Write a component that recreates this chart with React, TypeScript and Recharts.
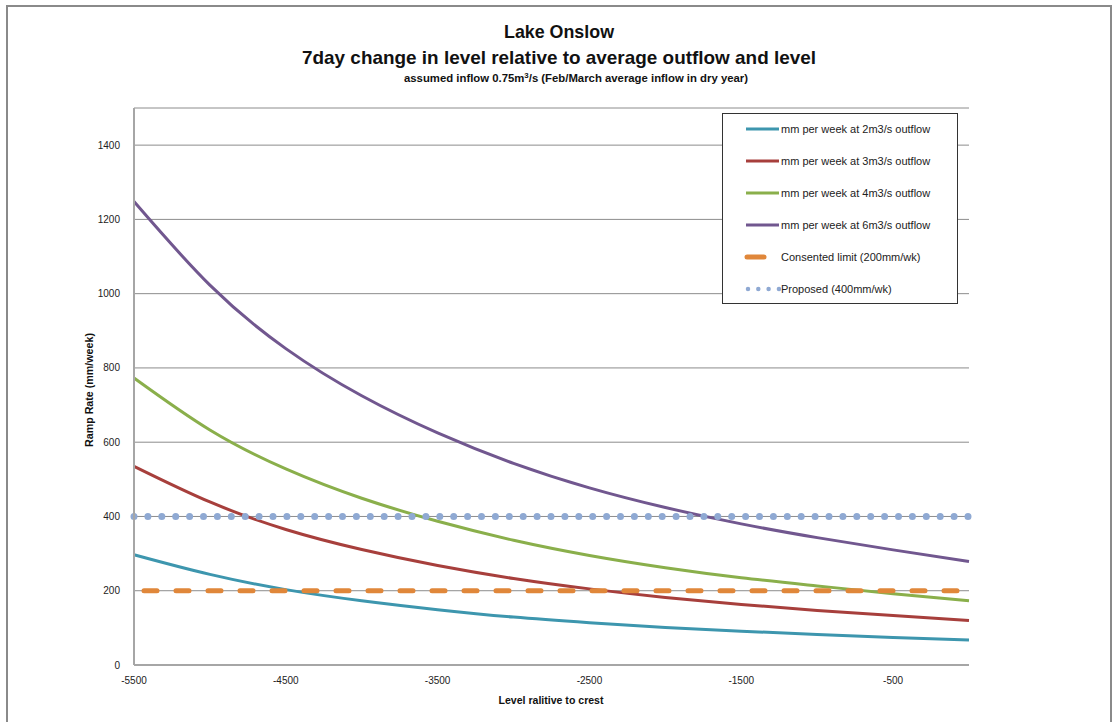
import React from 'react';
import { LineChart, Line, XAxis, YAxis, CartesianGrid } from 'recharts';

// Lake level relative to crest (mm)
const levels = [-5500, -5000, -4500, -4000, -3500, -3000, -2500, -2000, -1500, -1000, -500, 0];

// Weekly change in level (mm/week) for each average outflow
const outflow2 = [297, 244, 203, 173, 149, 129, 114, 101, 91, 82, 74, 67];
const outflow3 = [535, 439, 365, 311, 268, 233, 205, 182, 163, 147, 133, 120];
const outflow4 = [773, 633, 528, 449, 387, 336, 295, 262, 235, 213, 192, 173];
const outflow6 = [1248, 1023, 852, 725, 625, 543, 477, 424, 380, 343, 310, 279];

// Ramp rate limits (mm/week)
const consentedLimit = [200, 200, 200, 200, 200, 200, 200, 200, 200, 200, 200, 200];
const proposedLimit = [400, 400, 400, 400, 400, 400, 400, 400, 400, 400, 400, 400];

const xTicks = [-5500, -4500, -3500, -2500, -1500, -500];
const yTicks = [0, 200, 400, 600, 800, 1000, 1200, 1400];

const rows = levels.map((level, i) => ({
  level,
  q2: outflow2[i],
  q3: outflow3[i],
  q4: outflow4[i],
  q6: outflow6[i],
  consented: consentedLimit[i],
  proposed: proposedLimit[i],
}));

type SeriesDef = {
  key: string;
  name: string;
  color: string;
  width: number;
  dash?: string;
  dashOffset?: number;
  cap?: 'round' | 'butt';
};

const series: SeriesDef[] = [
  { key: 'q2', name: 'mm per week at 2m3/s outflow', color: '#3D96AE', width: 3 },
  { key: 'q3', name: 'mm per week at 3m3/s outflow', color: '#A73F3C', width: 3 },
  { key: 'q4', name: 'mm per week at 4m3/s outflow', color: '#8AAF4B', width: 3 },
  { key: 'q6', name: 'mm per week at 6m3/s outflow', color: '#71578F', width: 3 },
  { key: 'consented', name: 'Consented limit (200mm/wk)', color: '#E0873A', width: 5, dash: '13 19', dashOffset: -10, cap: 'round' },
  { key: 'proposed', name: 'Proposed (400mm/wk)', color: '#8FA9D3', width: 7, dash: '0 13.9', dashOffset: 0, cap: 'round' },
];

const FONT = '"Liberation Sans", Arial, sans-serif';

export default function App() {
  return (
    <div
      style={{
        position: 'absolute',
        left: 0,
        top: 0,
        width: 1119,
        height: 722,
        background: '#ffffff',
        fontFamily: FONT,
        overflow: 'hidden',
      }}
    >
      <div
        style={{
          position: 'absolute',
          left: 6,
          top: 5,
          width: 1102,
          height: 730,
          border: '2px solid #8a8a8a',
        }}
      />
      <div style={{ position: 'absolute', left: 0, top: 0 }}>
        <LineChart
          width={1119}
          height={722}
          data={rows}
          margin={{ top: 108, right: 150, bottom: 27, left: 74 }}
        >
          <CartesianGrid vertical={false} stroke="#8c8c8c" strokeWidth={1} />
          <XAxis
            dataKey="level"
            type="number"
            domain={[-5500, 0]}
            ticks={xTicks}
            interval={0}
            height={30}
            tickLine={false}
            axisLine={{ stroke: '#a6a6a6', strokeWidth: 2 }}
            tick={{ fill: '#222', fontSize: 10, fontFamily: FONT }}
            tickMargin={6}
          />
          <YAxis
            type="number"
            domain={[0, 1500]}
            ticks={yTicks}
            interval={0}
            width={60}
            tickLine={false}
            axisLine={{ stroke: '#a6a6a6', strokeWidth: 2 }}
            tick={{ fill: '#222', fontSize: 10, fontFamily: FONT }}
            tickMargin={8}
          />
          {series.map((s) => (
            <Line
              key={s.key}
              dataKey={s.key}
              name={s.name}
              type="natural"
              stroke={s.color}
              strokeWidth={s.width}
              strokeDasharray={s.dash}
              strokeDashoffset={s.dashOffset}
              strokeLinecap={s.cap ?? 'butt'}
              dot={false}
              activeDot={false}
              isAnimationActive={false}
            />
          ))}
        </LineChart>
      </div>

      <svg
        width={1119}
        height={722}
        style={{ position: 'absolute', left: 0, top: 0, pointerEvents: 'none' }}
      >
        <text x={559} y={38} textAnchor="middle" fontFamily={FONT} fontWeight="bold" fontSize={19}
          textLength={110} lengthAdjust="spacingAndGlyphs" fill="#111">
          Lake Onslow
        </text>
        <text x={559} y={64} textAnchor="middle" fontFamily={FONT} fontWeight="bold" fontSize={19}
          textLength={514} lengthAdjust="spacingAndGlyphs" fill="#111">
          7day change in level relative to average outflow and level
        </text>
        <text x={576} y={82} textAnchor="middle" fontFamily={FONT} fontWeight="bold" fontSize={11.5}
          textLength={344} lengthAdjust="spacingAndGlyphs" fill="#111">
          assumed inflow 0.75m<tspan dy={-4} fontSize={8}>3</tspan><tspan dy={4}>/s (Feb/March average inflow in dry year)</tspan>
        </text>
        <text x={551} y={704} textAnchor="middle" fontFamily={FONT} fontWeight="bold" fontSize={10}
          textLength={105} lengthAdjust="spacingAndGlyphs" fill="#111">
          Level ralitive to crest
        </text>
        <text
          x={0}
          y={0}
          transform="translate(93 390) rotate(-90)"
          textAnchor="middle"
          fontFamily={FONT}
          fontWeight="bold"
          fontSize={10}
          textLength={114}
          lengthAdjust="spacingAndGlyphs"
          fill="#111"
        >
          Ramp Rate (mm/week)
        </text>
      </svg>

      <div
        style={{
          position: 'absolute',
          left: 722,
          top: 113,
          width: 234,
          height: 189,
          border: '1px solid #333',
          background: '#fff',
        }}
      >
        {series.map((s, i) => (
          <div
            key={s.key}
            style={{
              position: 'absolute',
              left: 0,
              top: 5 + i * 32,
              height: 20,
              display: 'flex',
              alignItems: 'center',
              fontSize: 11,
              color: '#222',
              whiteSpace: 'nowrap',
            }}
          >
            <svg width={58} height={20} style={{ display: 'block' }}>
              {s.key === 'consented' ? (
                <line x1={24} y1={10} x2={41} y2={10} stroke={s.color} strokeWidth={5} strokeLinecap="round" />
              ) : s.key === 'proposed' ? (
                <line x1={25} y1={10} x2={56} y2={10} stroke={s.color} strokeWidth={4.5} strokeDasharray="0 10.3" strokeLinecap="round" />
              ) : (
                <line x1={23} y1={10} x2={56} y2={10} stroke={s.color} strokeWidth={3} />
              )}
            </svg>
            <span>{s.name}</span>
          </div>
        ))}
      </div>
    </div>
  );
}
